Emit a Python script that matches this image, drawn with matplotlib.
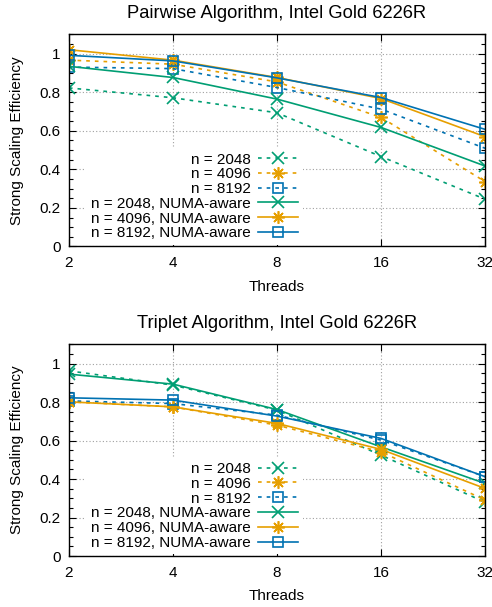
import matplotlib
matplotlib.use("Agg")
import matplotlib.pyplot as plt
from matplotlib.ticker import MultipleLocator, NullLocator

plt.rcParams['font.family'] = ['Liberation Sans', 'DejaVu Sans']
plt.rcParams['font.size'] = 11

threads = [2, 4, 8, 16, 32]
thread_labels = ['2', '4', '8', '16', '32']

# Pairwise algorithm
pair_2048 = [0.822, 0.771, 0.693, 0.466, 0.245]
pair_4096 = [0.966, 0.945, 0.853, 0.669, 0.336]
pair_8192 = [0.930, 0.922, 0.824, 0.712, 0.509]
pair_2048_numa = [0.934, 0.876, 0.764, 0.617, 0.417]
pair_4096_numa = [1.020, 0.966, 0.876, 0.767, 0.569]
pair_8192_numa = [0.991, 0.962, 0.874, 0.772, 0.607]

# Triplet algorithm
trip_2048 = [0.962, 0.888, 0.758, 0.524, 0.279]
trip_4096 = [0.801, 0.775, 0.680, 0.541, 0.291]
trip_8192 = [0.806, 0.792, 0.732, 0.602, 0.412]
trip_2048_numa = [0.945, 0.893, 0.761, 0.567, 0.377]
trip_4096_numa = [0.801, 0.775, 0.689, 0.554, 0.351]
trip_8192_numa = [0.822, 0.810, 0.727, 0.611, 0.412]

labels = ['n = 2048', 'n = 4096', 'n = 8192',
          'n = 2048, NUMA-aware', 'n = 4096, NUMA-aware', 'n = 8192, NUMA-aware']
colors = ['#009e73', '#e69f00', '#0072b2']
markers = ['x', (8, 2, 0), 's']


def draw_panel(ax, series, title):
    for i, ys in enumerate(series):
        c = colors[i % 3]
        m = markers[i % 3]
        dashed = i < 3
        if m == 's':
            kw = dict(markersize=7.5, markerfacecolor='none', markeredgewidth=1.2)
        elif m == 'x':
            kw = dict(markersize=8, markeredgewidth=1.2)
        else:
            kw = dict(markersize=9, markeredgewidth=1.2)
        line, = ax.plot(threads, ys, color=c, marker=m, linewidth=1.2,
                        label=labels[i], **kw)
        if dashed:
            line.set_dashes((2.2, 3.0))
    ax.set_xscale('log', base=2)
    ax.set_xlim(2, 32)
    ax.set_ylim(0, 1.1)
    ax.set_xticks(threads)
    ax.set_xticklabels(thread_labels)
    ax.xaxis.set_minor_locator(NullLocator())
    ax.set_yticks([0, 0.2, 0.4, 0.6, 0.8, 1.0])
    ax.set_yticklabels(['0', '0.2', '0.4', '0.6', '0.8', '1'])
    ax.yaxis.set_minor_locator(MultipleLocator(0.05))
    ax.tick_params(which='both', direction='in', top=True, right=True)
    ax.tick_params(which='major', length=5, width=0.8)
    ax.tick_params(which='minor', length=3, width=0.8)
    ax.tick_params(axis='x', pad=7)
    ax.tick_params(axis='y', pad=6)
    ax.grid(True, which='major', linestyle=(0, (1, 2)), color='#a0a0a0', linewidth=0.8)
    ax.set_axisbelow(True)
    for sp in ax.spines.values():
        sp.set_linewidth(1.0)
    ax.set_title(title, pad=12)
    ax.set_xlabel('Threads', labelpad=7)
    ax.set_ylabel('Strong Scaling Efficiency', labelpad=11)
    leg = ax.legend(loc='lower right', bbox_to_anchor=(0.565, 0.0),
                    markerfirst=False, frameon=True, fancybox=False,
                    framealpha=1, edgecolor='none', facecolor='white',
                    handlelength=2.6, handletextpad=0.5, labelspacing=0.05,
                    borderpad=0.3, borderaxespad=0.1)
    leg.set_zorder(5)


fig = plt.figure(figsize=(4.92, 6.07), dpi=100)
ax1 = fig.add_axes([0.140, 0.594, 0.846, 0.3495])
ax2 = fig.add_axes([0.140, 0.084, 0.846, 0.3488])

draw_panel(ax1, [pair_2048, pair_4096, pair_8192,
                 pair_2048_numa, pair_4096_numa, pair_8192_numa],
           'Pairwise Algorithm, Intel Gold 6226R')
draw_panel(ax2, [trip_2048, trip_4096, trip_8192,
                 trip_2048_numa, trip_4096_numa, trip_8192_numa],
           'Triplet Algorithm, Intel Gold 6226R')

fig.savefig('out.png', dpi=100)
